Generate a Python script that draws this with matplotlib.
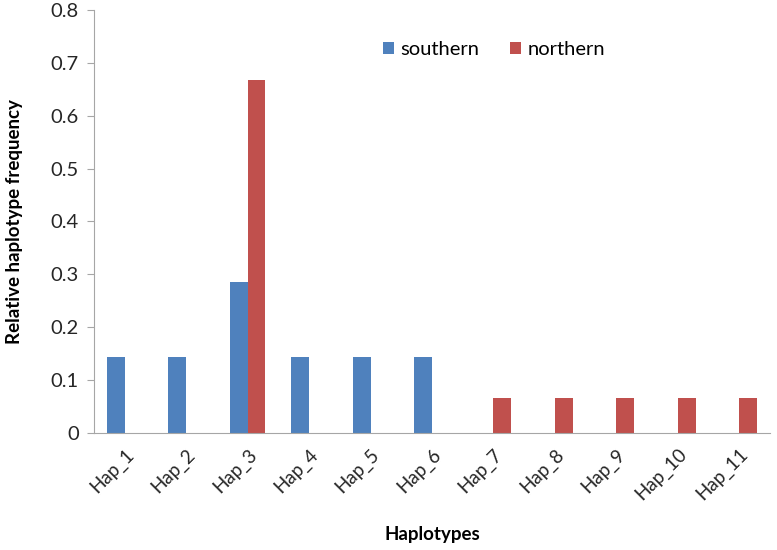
import numpy as np
import matplotlib.pyplot as plt

haplotypes = ["Hap_1", "Hap_2", "Hap_3", "Hap_4", "Hap_5", "Hap_6",
              "Hap_7", "Hap_8", "Hap_9", "Hap_10", "Hap_11"]
southern = [0.143, 0.143, 0.286, 0.143, 0.143, 0.143, 0, 0, 0, 0, 0]
northern = [0, 0, 0.667, 0, 0, 0, 0.0667, 0.0667, 0.0667, 0.0667, 0.0667]

plt.rcParams['font.family'] = ['Lato', 'DejaVu Sans']

fig = plt.figure(figsize=(7.77, 5.5), dpi=100)
ax = fig.add_axes([0.121, 0.213, 0.870, 0.769])

x = np.arange(len(haplotypes))
w = 0.29
ax.bar(x - w / 2, southern, w, color="#4F81BD", label="southern")
ax.bar(x + w / 2, northern, w, color="#C0504D", label="northern")

ax.set_xlim(-0.5, len(haplotypes) - 0.5)
ax.set_ylim(0, 0.8)
ax.set_yticks(np.arange(0, 0.81, 0.1))
ax.set_yticklabels(["0"] + [f"{v:.1f}" for v in np.arange(0.1, 0.81, 0.1)])
ax.set_xticks(x)
ax.set_xticklabels(haplotypes, rotation=45, ha="right", rotation_mode="anchor")

for s in ["top", "right"]:
    ax.spines[s].set_visible(False)
for s in ["left", "bottom"]:
    ax.spines[s].set_color("#A6A6A6")
ax.tick_params(axis="y", colors="#A6A6A6", labelcolor="#262626", labelsize=14.5, length=5, pad=6)
ax.tick_params(axis="x", length=0, labelcolor="#262626", labelsize=13.5, pad=9)

ax.set_ylabel("Relative haplotype frequency", fontsize=13.5, fontweight="bold", labelpad=20)
ax.set_xlabel("Haplotypes", fontsize=13.5, fontweight="bold", labelpad=16)

ax.legend(loc="upper left", bbox_to_anchor=(0.40, 0.97), ncol=2, frameon=False,
          fontsize=14.5, handlelength=0.55, handleheight=0.55, columnspacing=1.5,
          handletextpad=0.35)

fig.savefig("out.png", dpi=100)
